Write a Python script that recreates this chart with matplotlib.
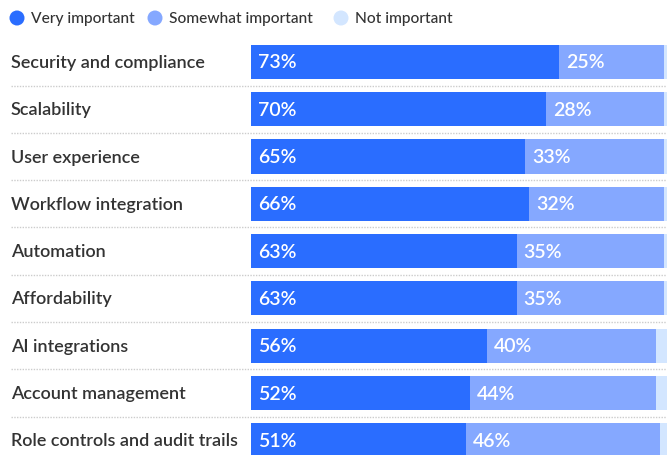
import matplotlib
matplotlib.use("Agg")
import matplotlib.pyplot as plt
from matplotlib.transforms import blended_transform_factory
from matplotlib.patches import Ellipse

plt.rcParams['font.family'] = ['Lato', 'DejaVu Sans']

categories = ["Security and compliance", "Scalability", "User experience",
              "Workflow integration", "Automation", "Affordability",
              "AI integrations", "Account management", "Role controls and audit trails"]
very = [73, 70, 65, 66, 63, 63, 56, 52, 51]
somewhat = [25, 28, 33, 32, 35, 35, 40, 44, 46]
not_imp = [2, 2, 2, 2, 2, 2, 4, 4, 3]
series_names = ["Very important", "Somewhat important", "Not important"]
colors = ["#2A6DFF", "#85A8FF", "#D3E6FF"]

W, H = 667, 456
fig = plt.figure(figsize=(W / 100, H / 100), dpi=100)
ax = fig.add_axes([251 / W, 0, 1 - 251 / W, 1])
ax.set_xlim(0, 98.6)
ax.set_ylim(8.31, -1.33)
ax.axis('off')

y = list(range(len(categories)))
left = [0] * len(categories)
for vals, col in zip([very, somewhat, not_imp], colors):
    ax.barh(y, vals, left=left, height=0.72, color=col, linewidth=0)
    for i, (v, l) in enumerate(zip(vals, left)):
        if v >= 5:
            ax.annotate(f"{v}%", xy=(l, i), xytext=(5, 0), textcoords='offset points',
                        ha='left', va='center', color='white', fontsize=14,
                        fontweight='semibold')
    left = [a + b for a, b in zip(left, vals)]

tr = blended_transform_factory(fig.transFigure, ax.transData)
for i, c in enumerate(categories):
    ax.text(11 / W, i, c, transform=tr, ha='left', va='center', fontsize=13.0,
            color='#333333', fontweight='semibold')
for i in range(len(categories) - 1):
    ax.plot([11 / W, 1], [i + 0.5, i + 0.5], transform=tr, clip_on=False,
            color='#cccccc', lw=1, ls=(0, (1, 1)))

# legend
lx = [17, 155, 341]
for x, name, col in zip(lx, series_names, colors):
    fig.patches.append(Ellipse((x / W, 1 - 19 / H), width=15 / W, height=15 / H,
                               transform=fig.transFigure, color=col, ec='none'))
    fig.text((x + 14) / W, 1 - 19 / H, name, ha='left', va='center', fontsize=11.2,
             color='#333333', fontweight='medium')

fig.savefig("out.png", dpi=100)
